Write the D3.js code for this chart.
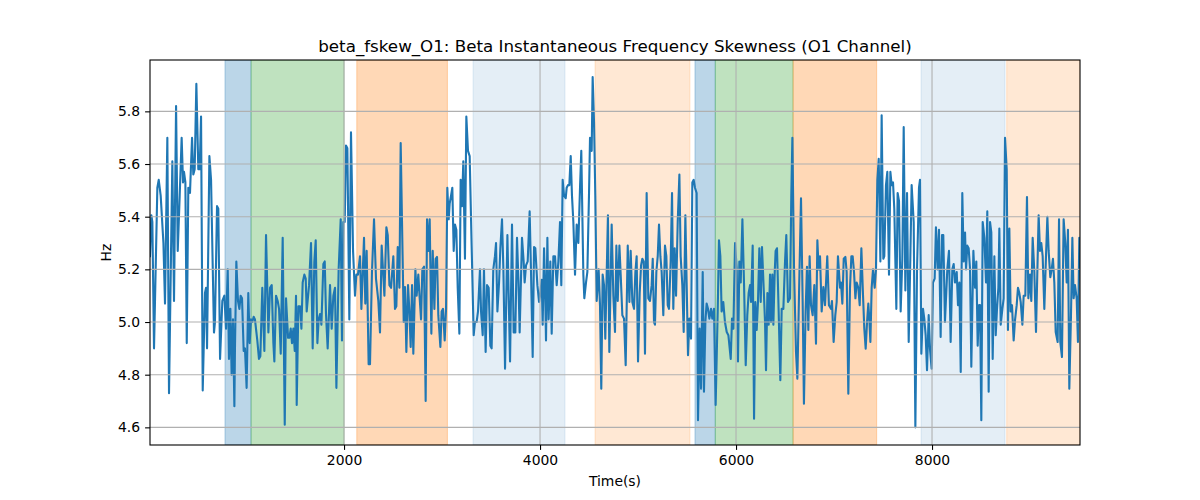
<!DOCTYPE html>
<html>
<head>
<meta charset="utf-8">
<script src="https://cdn.jsdelivr.net/npm/d3@7"></script>
<style>
  html, body { margin: 0; padding: 0; background: #fff; }
  svg text { font-family: "DejaVu Sans", sans-serif; fill: #000; }
</style>
</head>
<body>
<svg id="chart" width="1200" height="500"></svg>
<script>
// ---- data ----
const title = "beta_fskew_O1: Beta Instantaneous Frequency Skewness (O1 Channel)";
const xLabel = "Time(s)";
const yLabel = "Hz";
const xTicks = [2000, 4000, 6000, 8000];
const yTicks = [4.6, 4.8, 5.0, 5.2, 5.4, 5.6, 5.8];
const xDomain = [20, 9510];
const yDomain = [4.533, 5.995];

// shaded segments: start, end, kind
const spanStart = [785, 1051, 2130, 3316, 4561, 5581, 5788, 6582, 7888, 8762];
const spanEnd   = [1051, 2000, 3055, 4255, 5530, 5788, 6582, 7435, 8745, 9510];
const spanKind  = ["blue", "green", "orange", "lightblue", "lightorange", "blue", "green", "orange", "lightblue", "lightorange"];

// [time (s), Hz]
const samples1 = [[20,5.25],[34,5.405],[44,5.38],[61,4.90],[95,5.51],[109,5.54],[129,5.48],[157,5.30],[173,5.07],[197,5.70],[214,4.73],[248,5.61],[265,5.08],[286,5.82],[303,5.27],[323,5.48],[343,5.70],[357,5.53],[367,5.57],[381,5.53],[395,4.92],[411,5.51],[428,5.49],[449,5.70],[462,5.56],[476,5.58],[493,5.905],[513,5.58],[527,5.58],[541,5.78],[558,4.74],[581,5.11],[592,5.13],[602,4.90],[626,5.63],[643,5.54],[673,4.96],[683,5.00],[704,5.44],[717,5.43],[735,4.86],[758,5.08],[779,5.10],[796,4.975],[813,5.20],[826,4.86],[840,5.05],[853,4.80],[867,5.01],[881,4.68],[887,4.90],[901,5.23],[918,5.08],[932,5.05],[945,5.10],[959,5.09],[976,4.89],[989,4.90],[1006,4.75],[1023,5.11],[1037,4.92],[1051,5.01],[1064,5.00],[1078,5.02],[1091,5.01],[1115,4.93],[1132,4.86],[1146,4.87],[1166,5.13],[1187,4.89]];
const samples2 = [[1204,5.33],[1228,4.96],[1245,5.13],[1262,5.14],[1279,4.92],[1289,4.85],[1306,5.10],[1323,5.08],[1337,5.05],[1354,4.88],[1374,5.32],[1395,4.61],[1408,5.09],[1429,4.94],[1442,4.94],[1456,4.975],[1469,4.92],[1483,4.975],[1497,4.89],[1510,5.10],[1517,4.685],[1534,5.06],[1551,5.06],[1565,4.975],[1578,5.15],[1595,5.18],[1609,5.165],[1619,5.04],[1643,5.14],[1663,5.30],[1680,4.90],[1697,5.23],[1711,5.31],[1728,4.92],[1741,5.01],[1755,5.03],[1769,4.99],[1789,5.22],[1803,5.23],[1816,5.03],[1833,4.90],[1857,5.14],[1874,4.975],[1891,5.10],[1908,5.13],[1922,4.75],[1945,5.20],[1966,5.39],[1979,4.93],[1993,5.38],[2007,5.38],[2020,5.67],[2034,5.66],[2054,5.01],[2071,5.72],[2092,5.27],[2112,5.10],[2126,5.18],[2142,5.18],[2163,5.25],[2177,5.05],[2204,5.32],[2217,5.07],[2231,5.27],[2251,4.84],[2265,4.84],[2285,5.19],[2306,5.39],[2326,5.165],[2350,5.08],[2367,4.96]];
const samples3 = [[2384,5.29],[2412,5.10],[2432,5.36],[2446,5.33],[2463,5.14],[2480,5.13],[2503,5.25],[2520,5.05],[2534,5.06],[2548,5.285],[2565,5.13],[2578,5.68],[2609,5.00],[2622,5.133],[2636,4.886],[2653,5.14],[2667,5.04],[2680,4.905],[2694,5.14],[2707,4.88],[2728,5.20],[2741,5.10],[2758,5.18],[2772,5.09],[2786,5.01],[2799,5.20],[2816,5.21],[2833,4.70],[2847,5.39],[2860,5.27],[2874,5.39],[2891,4.956],[2905,5.27],[2922,5.05],[2935,5.24],[2949,5.247],[2962,5.026],[2983,4.905],[2996,5.04],[3010,5.05],[3027,4.93],[3041,5.05],[3054,5.51],[3068,5.39],[3078,5.45],[3092,5.48],[3105,5.51],[3119,5.27],[3132,5.37],[3146,5.35],[3160,5.13],[3177,4.956],[3190,5.54],[3204,5.44],[3217,5.61],[3234,5.24],[3248,5.78],[3265,5.65],[3282,5.63],[3302,5.29],[3323,4.95],[3336,5.00],[3353,5.00],[3367,5.04],[3387,5.20],[3398,5.04],[3415,4.95],[3428,5.20],[3445,4.886],[3459,5.14],[3476,5.13],[3493,4.91],[3506,4.90],[3523,5.20],[3540,5.25]];
const samples4 = [[3551,5.30],[3565,5.04],[3582,5.15],[3595,5.28],[3612,5.39],[3626,5.20],[3643,4.823],[3667,5.33],[3694,4.85],[3714,5.37],[3731,4.96],[3748,4.96],[3765,5.32],[3779,5.165],[3792,4.96],[3816,5.32],[3833,5.23],[3843,5.15],[3857,5.215],[3874,5.23],[3894,5.42],[3908,5.19],[3925,4.867],[3939,5.285],[3952,5.28],[3973,5.14],[3990,5.076],[4000,5.10],[4017,5.16],[4027,4.99],[4041,5.28],[4051,5.14],[4061,4.93],[4075,5.32],[4088,5.01],[4105,5.23],[4119,4.956],[4136,5.25],[4153,5.25],[4170,5.14],[4187,5.23],[4204,5.38],[4217,5.14],[4231,5.54],[4245,5.48],[4262,5.47],[4272,5.51],[4285,5.52],[4299,5.52],[4313,5.63],[4326,5.48],[4340,5.38],[4357,5.18],[4374,5.37],[4391,5.30],[4408,5.51],[4421,5.65],[4442,5.18],[4452,5.09],[4469,5.15],[4483,5.19],[4500,5.49],[4510,5.70],[4527,5.65],[4537,5.93],[4551,5.76],[4564,5.48],[4578,5.08],[4598,5.20],[4612,5.064],[4625,4.747],[4639,5.18],[4653,5.14],[4666,4.937],[4680,5.18],[4693,5.405],[4707,4.886]];
const samples5 = [[4731,5.37],[4748,5.10],[4765,4.962],[4779,5.29],[4793,5.08],[4810,5.29],[4823,5.18],[4840,5.026],[4857,5.013],[4874,4.836],[4895,5.29],[4912,5.076],[4925,5.27],[4942,5.076],[4959,5.05],[4973,5.19],[4986,5.25],[5000,4.85],[5017,5.11],[5031,5.215],[5044,5.24],[5058,5.23],[5071,4.88],[5088,5.49],[5105,5.09],[5122,5.08],[5139,5.14],[5150,5.24],[5163,5.00],[5173,4.99],[5187,5.19],[5201,5.25],[5214,5.37],[5228,5.25],[5241,5.19],[5258,5.026],[5275,5.29],[5289,5.25],[5303,5.064],[5316,5.05],[5333,5.23],[5347,5.49],[5360,5.05],[5374,5.28],[5388,5.10],[5405,5.38],[5422,5.56],[5435,5.25],[5452,5.14],[5466,4.962],[5483,5.405],[5496,5.15],[5510,4.874],[5524,5.013],[5541,4.937],[5554,5.53],[5568,5.54],[5581,5.51],[5598,5.49],[5612,4.627],[5629,4.975],[5643,4.747],[5660,5.19],[5673,4.735],[5687,5.00],[5700,5.07],[5714,5.05],[5728,5.013],[5745,5.05],[5758,5.013],[5775,5.05],[5792,4.685],[5813,5.04],[5826,5.31],[5840,5.25],[5853,5.04],[5870,5.076],[5887,5.00]];
const samples6 = [[5905,4.962],[5922,4.95],[5946,4.86],[5959,5.013],[5973,4.975],[5990,5.30],[6007,5.20],[6020,4.85],[6034,5.23],[6048,5.15],[6065,5.39],[6082,5.14],[6099,4.836],[6115,5.026],[6129,5.11],[6143,5.14],[6153,5.076],[6170,5.29],[6184,4.633],[6197,5.076],[6211,4.97],[6224,5.076],[6238,5.28],[6252,5.076],[6265,5.285],[6282,5.13],[6296,5.00],[6306,4.817],[6320,5.11],[6333,4.99],[6347,5.18],[6357,5.00],[6371,5.18],[6381,4.99],[6394,5.18],[6404,5.27],[6418,5.28],[6435,5.04],[6452,4.779],[6466,5.05],[6483,5.05],[6500,5.23],[6513,5.33],[6530,5.076],[6551,5.09],[6564,5.48],[6575,5.70],[6592,5.20],[6612,4.886],[6626,4.785],[6646,5.165],[6663,5.47],[6680,5.076],[6693,4.69],[6710,5.04],[6724,5.21],[6738,4.97],[6751,5.25],[6765,5.064],[6782,5.026],[6799,5.14],[6816,4.918],[6830,5.31],[6843,5.20],[6857,5.25],[6874,5.04],[6891,5.133],[6908,5.064],[6931,5.25],[6948,5.064],[6969,5.05],[6979,5.08],[6996,4.924],[7013,5.026],[7027,5.076],[7040,5.25],[7061,5.13]];
const samples7 = [[7071,5.15],[7085,5.07],[7099,5.24],[7116,5.247],[7129,5.19],[7146,4.728],[7163,5.13],[7177,5.25],[7190,5.25],[7204,5.19],[7218,5.09],[7231,5.15],[7248,5.13],[7262,5.064],[7279,5.28],[7296,5.10],[7309,4.975],[7323,4.899],[7337,5.00],[7350,5.07],[7360,5.013],[7371,4.924],[7384,5.13],[7398,5.20],[7415,5.13],[7428,5.20],[7442,5.54],[7456,5.62],[7473,5.23],[7486,5.785],[7503,5.24],[7513,5.25],[7530,5.52],[7544,5.57],[7561,5.18],[7575,5.57],[7588,5.52],[7602,5.53],[7615,5.43],[7636,5.05],[7649,5.49],[7663,5.46],[7680,5.04],[7697,5.24],[7711,5.74],[7728,5.12],[7745,5.49],[7762,4.924],[7779,5.25],[7792,5.52],[7813,5.38],[7830,4.60],[7847,5.20],[7867,5.51],[7877,5.54],[7891,4.88],[7908,5.05],[7921,5.013],[7935,4.95],[7949,4.817],[7966,5.026],[7979,4.899],[7996,4.823],[8010,5.15],[8027,5.165],[8040,5.36],[8057,5.20],[8071,5.35],[8088,4.943],[8102,5.33],[8115,5.33],[8132,5.00],[8156,5.20],[8173,5.27],[8190,4.924],[8207,5.20],[8221,5.22],[8234,5.15]];
const samples8 = [[8252,5.19],[8265,5.064],[8279,5.15],[8293,4.81],[8309,5.49],[8323,5.23],[8337,5.34],[8347,5.20],[8360,5.29],[8374,5.28],[8388,5.20],[8401,4.83],[8422,5.27],[8439,5.13],[8452,5.23],[8466,4.91],[8480,5.064],[8490,5.064],[8503,4.627],[8517,5.38],[8534,5.32],[8551,5.15],[8564,5.42],[8578,4.735],[8592,5.38],[8605,5.34],[8619,4.86],[8636,5.25],[8650,4.95],[8663,5.05],[8677,5.13],[8687,5.355],[8701,4.99],[8718,5.05],[8731,5.09],[8745,5.70],[8762,5.58],[8775,4.97],[8789,5.355],[8802,5.04],[8816,5.064],[8833,4.93],[8847,5.007],[8864,5.064],[8877,5.13],[8891,5.11],[8905,5.076],[8922,4.99],[8935,5.10],[8952,5.10],[8969,5.475],[8983,5.09],[9000,5.18],[9013,5.08],[9027,5.32],[9044,5.19],[9061,4.962],[9074,5.18],[9088,5.405],[9102,5.27],[9115,5.30],[9129,5.25],[9146,5.05],[9163,5.25],[9177,5.40],[9190,5.27],[9207,5.17],[9221,5.20],[9234,5.24],[9248,5.15],[9262,4.962],[9282,4.924],[9296,5.39],[9309,4.924],[9326,4.867],[9343,5.39],[9360,5.30],[9374,5.15],[9387,5.35],[9401,4.747],[9418,5.026],[9432,5.32],[9445,5.09],[9459,5.14],[9476,5.09],[9489,4.924],[9503,5.32],[9510,5.30]];

// ---- drawing ----
const samples = [].concat(samples1, samples2, samples3, samples4, samples5, samples6, samples7, samples8);

const W = 1200, H = 500;
const margin = { left: 150, right: 120, top: 60, bottom: 55 };
const svg = d3.select("#chart");

const x = d3.scaleLinear().domain(xDomain).range([margin.left, W - margin.right]);
const y = d3.scaleLinear().domain(yDomain).range([H - margin.bottom, margin.top]);

const kindColor = {
  blue:        { c: "#1f77b4", o: 0.3 },
  green:       { c: "#2ca02c", o: 0.3 },
  orange:      { c: "#ff7f0e", o: 0.3 },
  lightblue:   { c: "#1f77b4", o: 0.12 },
  lightorange: { c: "#ff7f0e", o: 0.18 }
};

const spans = spanStart.map((s, i) => ({ s, e: spanEnd[i], k: spanKind[i] }));

const clipId = "plotclip";
svg.append("defs").append("clipPath").attr("id", clipId)
  .append("rect")
  .attr("x", margin.left).attr("y", margin.top)
  .attr("width", W - margin.left - margin.right)
  .attr("height", H - margin.top - margin.bottom);

const plot = svg.append("g").attr("clip-path", `url(#${clipId})`);

plot.selectAll("rect.span").data(spans).enter().append("rect")
  .attr("class", "span")
  .attr("x", d => x(d.s))
  .attr("width", d => x(d.e) - x(d.s))
  .attr("y", margin.top)
  .attr("height", H - margin.top - margin.bottom)
  .attr("fill", d => kindColor[d.k].c)
  .attr("fill-opacity", d => kindColor[d.k].o)
  .attr("stroke", d => kindColor[d.k].c)
  .attr("stroke-opacity", d => kindColor[d.k].o)
  .attr("stroke-width", 1);

// grid
const grid = svg.append("g");
grid.selectAll("line.gx").data(xTicks).enter().append("line")
  .attr("x1", d => x(d)).attr("x2", d => x(d))
  .attr("y1", margin.top).attr("y2", H - margin.bottom)
  .attr("stroke", "#b0b0b0").attr("stroke-width", 1.1);
grid.selectAll("line.gy").data(yTicks).enter().append("line")
  .attr("y1", d => y(d)).attr("y2", d => y(d))
  .attr("x1", margin.left).attr("x2", W - margin.right)
  .attr("stroke", "#b0b0b0").attr("stroke-width", 1.1);

// line
const line = d3.line().x(d => x(d[0])).y(d => y(d[1]));
plot.append("path").datum(samples)
  .attr("d", line)
  .attr("fill", "none")
  .attr("stroke", "#1f77b4")
  .attr("stroke-width", 2.1)
  .attr("stroke-linejoin", "round")
  .attr("stroke-linecap", "square");

// axes
const xAxis = d3.axisBottom(x).tickValues(xTicks).tickFormat(d3.format("d")).tickSizeOuter(0).tickSize(4.9).tickPadding(5);
const yAxis = d3.axisLeft(y).tickValues(yTicks).tickFormat(d3.format(".1f")).tickSizeOuter(0).tickSize(4.9).tickPadding(5);

const gx = svg.append("g").attr("transform", `translate(0,${H - margin.bottom})`).call(xAxis);
const gy = svg.append("g").attr("transform", `translate(${margin.left},0)`).call(yAxis);
[gx, gy].forEach(g => {
  g.select(".domain").remove();
  g.selectAll(".tick line").attr("stroke", "#000").attr("stroke-width", 1.1);
  g.selectAll(".tick text").attr("font-family", "DejaVu Sans").attr("font-size", "13.9px").attr("fill", "#000");
});

// frame
svg.append("rect")
  .attr("x", margin.left).attr("y", margin.top)
  .attr("width", W - margin.left - margin.right)
  .attr("height", H - margin.top - margin.bottom)
  .attr("fill", "none").attr("stroke", "#000").attr("stroke-width", 1.1);

// labels
svg.append("text")
  .attr("x", (margin.left + W - margin.right) / 2).attr("y", 52)
  .attr("text-anchor", "middle").attr("font-size", "16.7px")
  .text(title);
svg.append("text")
  .attr("x", (margin.left + W - margin.right) / 2).attr("y", 486)
  .attr("text-anchor", "middle").attr("font-size", "13.9px")
  .text(xLabel);
svg.append("text")
  .attr("transform", `translate(111,${(margin.top + H - margin.bottom) / 2}) rotate(-90)`)
  .attr("text-anchor", "middle").attr("font-size", "13.9px")
  .text(yLabel);
</script>
</body>
</html>
